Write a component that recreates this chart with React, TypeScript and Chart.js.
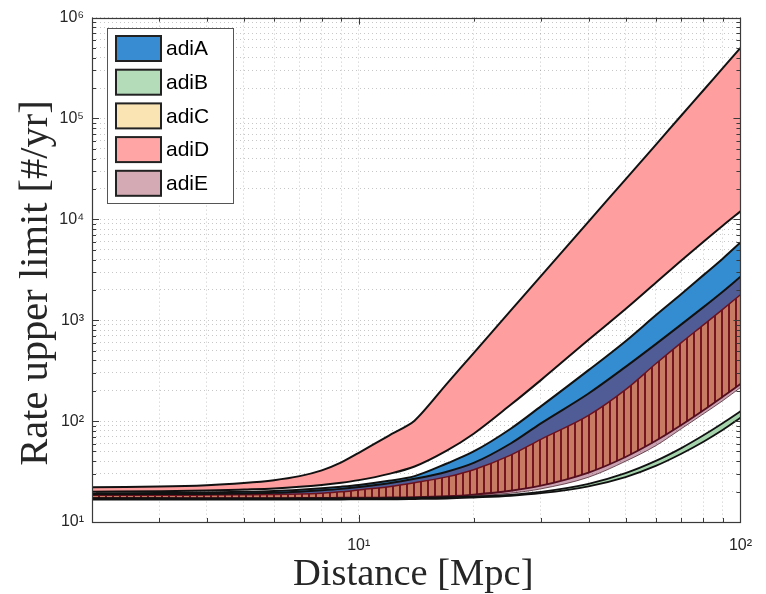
import React, { useEffect, useRef } from 'react';
import { Chart, registerables } from 'chart.js';

Chart.register(...registerables);

// Distance [Mpc]
const distances = [2, 3, 4, 5, 6, 7, 8, 9, 10, 12, 14, 17, 20, 25, 30, 40, 50, 60, 70, 80, 90, 100];

// Band boundaries (rate upper limit, #/yr)
const adiDUpper = [22.1, 22.5, 23.2, 24.4, 26, 28.5, 32.5, 39, 48.5, 72, 101, 234, 473, 1245, 2735, 9500, 24950, 54800, 107000, 190600, 317000, 500000];
const adiDLower = [20, 20.2, 20.5, 21, 21.5, 22.3, 23.3, 24.5, 26, 30, 35.5, 51, 75, 145, 255, 640, 1290, 2350, 3900, 6000, 8700, 12000];
const adiAUpper = [19.3, 19.4, 19.6, 19.9, 20.3, 20.9, 21.6, 22.4, 23.3, 25.6, 28.5, 38, 50, 84, 140, 320, 620, 1120, 1820, 2800, 4100, 5900];
const adiALower = [18.4, 18.4, 18.5, 18.6, 18.7, 18.9, 19.3, 19.9, 20.8, 22.4, 24.5, 28, 33, 46, 66, 114, 205, 370, 600, 900, 1290, 1790];
const adiEUpper = [18.8, 18.9, 19, 19.2, 19.5, 20, 20.6, 21.3, 22.2, 24.2, 26.8, 31.5, 38.5, 60, 95, 188, 345, 580, 910, 1350, 1930, 2700];
const adiELower = [17, 17, 17, 17, 17, 17, 17.1, 17.1, 17.1, 17.2, 17.3, 17.6, 18.1, 19.3, 21.3, 27.8, 40, 57, 84, 118, 160, 215];
const adiCUpper = [18.4, 18.4, 18.5, 18.6, 18.7, 18.9, 19.3, 19.9, 20.8, 22.4, 24.5, 28, 33, 46, 66, 114, 205, 370, 600, 900, 1290, 1790];
const adiCLower = [17.2, 17.2, 17.2, 17.2, 17.2, 17.3, 17.3, 17.4, 17.4, 17.5, 17.6, 18, 18.7, 20.4, 22.9, 30.9, 44.1, 63.8, 91.4, 128, 175, 233];
const adiBUpper = [17.2, 17.2, 17.1, 17.1, 17.1, 17.1, 17.1, 17.1, 17.1, 17.2, 17.3, 17.6, 17.9, 18.6, 19.9, 23.9, 30.5, 40.3, 54, 72.3, 95.7, 125];
const adiBLower = [16.7, 16.7, 16.7, 16.7, 16.7, 16.7, 16.7, 16.7, 16.8, 16.8, 16.9, 17.1, 17.5, 18.2, 19.3, 22.6, 27.9, 36, 47.5, 62.5, 82, 108];

// Legend
const legendLabels = ['adiA', 'adiB', 'adiC', 'adiD', 'adiE'];

// Axis ticks
const xTickValues = [2, 3, 4, 5, 6, 7, 8, 9, 10, 20, 30, 40, 50, 60, 70, 80, 90, 100];
const yTickValues: number[] = [];
for (let e = 1; e < 6; e++) for (let m = 1; m < 10; m++) yTickValues.push(m * Math.pow(10, e));
yTickValues.push(1e6);

const xTitle = 'Distance [Mpc]';
const yTitle = 'Rate upper limit [#/yr]';

const SUP = ['⁰', '¹', '²', '³', '⁴', '⁵', '⁶', '⁷', '⁸', '⁹'];
function decadeLabel(v: number): string {
  const e = Math.log10(v);
  if (Math.abs(e - Math.round(e)) < 1e-9) return '10' + SUP[Math.round(e)];
  return '';
}

export default function App() {
  const ref = useRef<HTMLCanvasElement>(null);

  useEffect(() => {
    const canvas = ref.current!;
    const ctx = canvas.getContext('2d')!;

    const pc = document.createElement('canvas');
    pc.width = 7;
    pc.height = 8;
    const p = pc.getContext('2d')!;
    p.fillStyle = 'rgb(252,192,125)';
    p.fillRect(0, 0, 7, 8);
    p.fillStyle = 'rgb(115,22,18)';
    p.fillRect(0, 0, 2, 8);
    const hatch = ctx.createPattern(pc, 'repeat');

    const pts = (ys: number[]) => distances.map((x, i) => ({ x, y: ys[i] }));
    const line = (label: string, ys: number[], color: string, width: number, extra: any = {}) => ({
      label,
      data: pts(ys),
      borderColor: color,
      borderWidth: width,
      pointRadius: 0,
      fill: false,
      cubicInterpolationMode: 'monotone',
      ...extra,
    });

    const datasets: any[] = [
      line('adiB upper', adiBUpper, '#111', 1.8),
      line('adiB', adiBLower, '#111', 1.8, { fill: '-1', backgroundColor: 'rgb(165,212,172)' }),
      line('adiE upper', adiEUpper, '#111', 2),
      line('adiE', adiELower, 'rgba(60,20,30,0.7)', 1, { fill: '-1', backgroundColor: 'rgba(120,20,60,0.4)' }),
      line('adiC upper', adiCUpper, 'rgb(100,15,10)', 1.5),
      line('adiC', adiCLower, 'rgb(60,10,10)', 1.8, { fill: '-1', backgroundColor: hatch }),
      line('adiA upper', adiAUpper, '#111', 2),
      line('adiA', adiALower, 'rgba(0,0,0,0)', 1, { fill: '-1', backgroundColor: 'rgb(52,141,208)' }),
      line('adiD upper', adiDUpper, '#111', 2, { cubicInterpolationMode: 'default', tension: 0.25 }),
      line('adiD', adiDLower, '#111', 2, { fill: '-1', backgroundColor: 'rgb(255,158,158)' }),
    ];

    const legendColors = ['rgb(55,140,210)', 'rgb(180,220,185)', 'rgb(250,228,180)', 'rgb(255,165,165)', 'rgb(212,170,180)'];

    const framePlugin = {
      id: 'frame',
      afterDraw(chart: any) {
        const c = chart.ctx;
        const a = chart.chartArea;
        const xs = chart.scales.x;
        const ys = chart.scales.y;
        c.save();
        // inner tick marks
        c.strokeStyle = '#3a3a3a';
        c.lineWidth = 1;
        c.beginPath();
        xTickValues.forEach((v) => {
          const px = Math.round(xs.getPixelForValue(v)) + 0.5;
          const len = decadeLabel(v) ? 7 : 4;
          c.moveTo(px, a.bottom);
          c.lineTo(px, a.bottom - len);
          c.moveTo(px, a.top);
          c.lineTo(px, a.top + len);
        });
        yTickValues.forEach((v) => {
          const py = Math.round(ys.getPixelForValue(v)) + 0.5;
          const len = decadeLabel(v) ? 7 : 4;
          c.moveTo(a.left, py);
          c.lineTo(a.left + len, py);
          c.moveTo(a.right, py);
          c.lineTo(a.right - len, py);
        });
        c.stroke();
        // box
        c.strokeStyle = '#3a3a3a';
        c.lineWidth = 1.2;
        c.strokeRect(Math.round(a.left) + 0.5, Math.round(a.top) + 0.5, Math.round(a.right - a.left), Math.round(a.bottom - a.top));

        // legend
        const lx = 107.5, ly = 28.5, lw = 126, lh = 175;
        c.fillStyle = '#ffffff';
        c.fillRect(lx, ly, lw, lh);
        c.strokeStyle = '#555';
        c.lineWidth = 1;
        c.strokeRect(lx, ly, lw, lh);
        c.font = '21px "Liberation Sans", Arial, sans-serif';
        c.textBaseline = 'middle';
        c.textAlign = 'left';
        legendLabels.forEach((lab, i) => {
          const yc = 48.5 + i * 33.7;
          c.fillStyle = legendColors[i];
          c.fillRect(116, yc - 12.5, 45, 25);
          c.strokeStyle = '#222';
          c.lineWidth = 2;
          c.strokeRect(116, yc - 12.5, 45, 25);
          c.fillStyle = '#000';
          c.fillText(lab, 166, yc + 1);
        });

        // axis titles
        c.fillStyle = '#262626';
        c.textAlign = 'center';
        c.textBaseline = 'middle';
        c.font = '38.5px "Liberation Serif", "Times New Roman", serif';
        c.fillText(xTitle, (a.left + a.right) / 2 - 3, 575);
        c.font = '40.5px "Liberation Serif", "Times New Roman", serif';
        c.translate(36, 283);
        c.rotate(-Math.PI / 2);
        c.fillText(yTitle, 0, 0);
        c.restore();
      },
    };

    const tickFont = { family: '"Liberation Sans", Arial, sans-serif', size: 16 };

    const chart = new Chart(ctx, {
      type: 'line',
      data: { datasets },
      options: {
        animation: false,
        responsive: false,
        devicePixelRatio: 1,
        events: [],
        layout: { padding: { top: 14, right: 21, left: 0, bottom: 0 } },
        plugins: {
          legend: { display: false },
          tooltip: { enabled: false },
          title: { display: false },
        },
        scales: {
          x: {
            type: 'logarithmic',
            min: 2,
            max: 100,
            afterBuildTicks: (s: any) => {
              s.ticks = xTickValues.map((v) => ({ value: v }));
            },
            afterFit: (s: any) => {
              s.height = 72;
            },
            ticks: {
              callback: (v: any) => decadeLabel(Number(v)),
              autoSkip: false,
              maxRotation: 0,
              minRotation: 0,
              padding: 14,
              font: tickFont,
              color: '#262626',
            },
            grid: { color: 'rgba(0,0,0,0.22)', lineWidth: 1, drawTicks: false, borderDash: [1, 3] },
            border: { display: false, dash: [1, 3] },
          },
          y: {
            type: 'logarithmic',
            min: 10,
            max: 1e6,
            afterBuildTicks: (s: any) => {
              s.ticks = yTickValues.map((v) => ({ value: v }));
            },
            afterFit: (s: any) => {
              s.width = 92;
            },
            ticks: {
              callback: (v: any) => decadeLabel(Number(v)),
              autoSkip: false,
              padding: 8,
              font: tickFont,
              color: '#262626',
            },
            grid: { color: 'rgba(0,0,0,0.22)', lineWidth: 1, drawTicks: false, borderDash: [1, 3] },
            border: { display: false, dash: [1, 3] },
          },
        },
      } as any,
      plugins: [framePlugin],
    });

    return () => chart.destroy();
  }, []);

  return (
    <div style={{ position: 'fixed', left: 0, top: 0, width: 766, height: 594, background: '#fff' }}>
      <canvas ref={ref} width={766} height={594} style={{ display: 'block', width: 766, height: 594 }} />
    </div>
  );
}
